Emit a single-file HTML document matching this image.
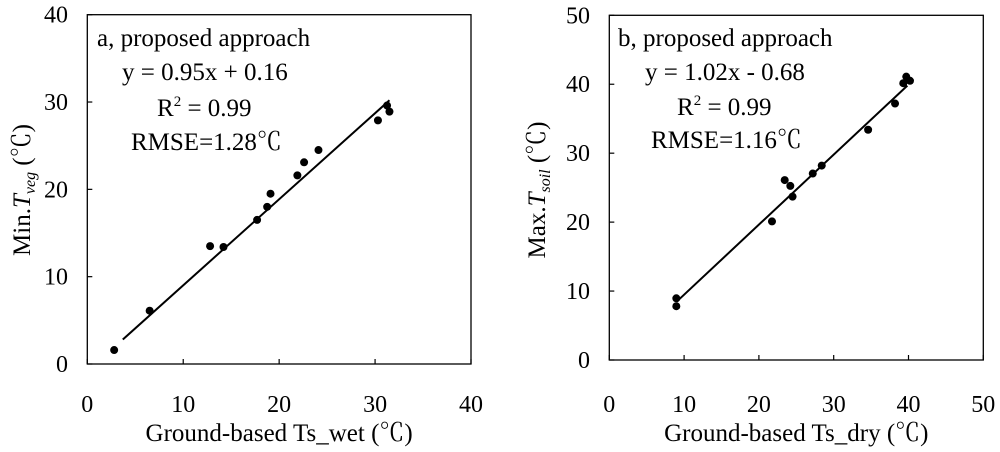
<!DOCTYPE html>
<html><head><meta charset="utf-8"><style>
html,body{margin:0;padding:0;background:#fff;}
svg{display:block;font-family:"Liberation Serif","Noto Serif CJK SC",serif;}
</style></head><body>
<svg id="chart" width="1000" height="452" viewBox="0 0 1000 452"></svg>
<script>
// Panel a data
const aX = [2.8, 6.5, 12.8, 14.2, 17.7, 18.75, 19.1, 21.9, 22.6, 24.1, 30.3, 31.25, 31.5];
const aY = [1.6, 6.1, 13.5, 13.4, 16.5, 18.0, 19.5, 21.6, 23.1, 24.5, 27.9, 29.6, 28.9];
const aLineX = [3.7, 31.5];
const aLineY = [2.8, 30.2];
const aTicks = [0, 10, 20, 30, 40];
// Panel b data
const bX = [8.96, 8.96, 21.75, 23.45, 24.2, 24.5, 27.2, 28.4, 34.6, 38.2, 39.3, 39.7, 40.2];
const bY = [7.8, 8.95, 20.1, 26.1, 25.25, 23.7, 27.05, 28.2, 33.4, 37.2, 40.15, 41.1, 40.5];
const bLineX = [9.0, 39.85];
const bLineY = [8.46, 39.8];
const bTicks = [0, 10, 20, 30, 40, 50];

const NS = "http://www.w3.org/2000/svg";
const svg = document.getElementById('chart');
function mk(tag, attrs, parent, text){
  const e = document.createElementNS(NS, tag);
  for (const k in attrs) e.setAttribute(k, attrs[k]);
  if (text !== undefined) e.textContent = text;
  (parent || svg).appendChild(e);
  return e;
}

function panel(id, box, max, ticks, xs, ys, lx, ly, texts, xTitle, yMain, ySub, yTitleX, ytickEnd) {
  const g = mk('g', {});
  
  
  const sx = v => box.l + (box.r - box.l) * v / max;
  const sy = v => box.b - (box.b - box.t) * v / max;
  const frame = mk('rect', {x: box.l, y: box.t, width: box.r - box.l, height: box.b - box.t, fill: 'none', stroke: '#000', 'stroke-width': 1.3}, g);
  
  
  ticks.forEach(t => {
    const xt = mk('line', {x1: sx(t), x2: sx(t), y1: box.b, y2: box.b - 5, stroke: '#000', 'stroke-width': 1.2}, g);
    
    
    const yt = mk('line', {x1: box.l, x2: box.l + 5, y1: sy(t), y2: sy(t), stroke: '#000', 'stroke-width': 1.2}, g);
    
    
    const xl = mk('text', {x: sx(t), y: 412, 'font-size': 24, 'text-anchor': 'middle'}, g, String(t));
    
    
    const yl = mk('text', {x: ytickEnd, y: sy(t) + 8, 'font-size': 24, 'text-anchor': 'end'}, g, String(t));
    
    
  });
  const fit = mk('line', {x1: sx(lx[0]), y1: sy(ly[0]), x2: sx(lx[1]), y2: sy(ly[1]), stroke: '#000', 'stroke-width': 2}, g);
  
  
  xs.forEach((v, i) => {
    const c = mk('circle', {cx: sx(v), cy: sy(ys[i]), r: 4, fill: '#000'}, g);
    
    
  });
  texts.forEach(tx => {
    const t = mk('text', {x: tx.x, y: tx.y, 'font-size': 25}, g);
    
    
    if (tx.sup) {
      mk('tspan', {}, t, 'R');
      mk('tspan', {dy: -10, 'font-size': 15}, t, '2');
      mk('tspan', {dy: 10}, t, ' = 0.99');
    } else t.textContent = tx.s;
  });
  const xt = mk('text', {x: (box.l + box.r) / 2, y: 441, 'font-size': 25, 'text-anchor': 'middle'}, g, xTitle);
  
  
  const yt = mk('text', {x: 0, y: 0, 'font-size': 25, 'text-anchor': 'middle', transform: `translate(${yTitleX},190) rotate(-90)`}, g);
  
  
  mk('tspan', {}, yt, yMain);
  mk('tspan', {'font-style': 'italic'}, yt, 'T');
  mk('tspan', {'font-style': 'italic', 'font-size': 16, dy: 5}, yt, ySub);
  mk('tspan', {dy: -5}, yt, ' (℃)');
}

panel('panel-a', {l: 87.3, r: 471, t: 14.7, b: 364}, 40, aTicks, aX, aY, aLineX, aLineY,
  [{x: 97, y: 46, s: 'a, proposed approach', name: 'panel-label'},
   {x: 122, y: 80, s: 'y = 0.95x + 0.16', name: 'regression-equation'},
   {x: 157, y: 116, sup: true, name: 'r-squared'},
   {x: 131, y: 150, s: 'RMSE=1.28℃', name: 'rmse'}],
  'Ground-based Ts_wet (℃)', 'Min.', 'veg', 30, 68);

panel('panel-b', {l: 609.3, r: 983.3, t: 15.3, b: 360}, 50, bTicks, bX, bY, bLineX, bLineY,
  [{x: 618, y: 46, s: 'b, proposed approach', name: 'panel-label'},
   {x: 645, y: 80, s: 'y = 1.02x - 0.68', name: 'regression-equation'},
   {x: 677, y: 115, sup: true, name: 'r-squared'},
   {x: 651, y: 148, s: 'RMSE=1.16℃', name: 'rmse'}],
  'Ground-based Ts_dry (℃)', 'Max.', 'soil', 545, 590);
</script>
</body></html>
